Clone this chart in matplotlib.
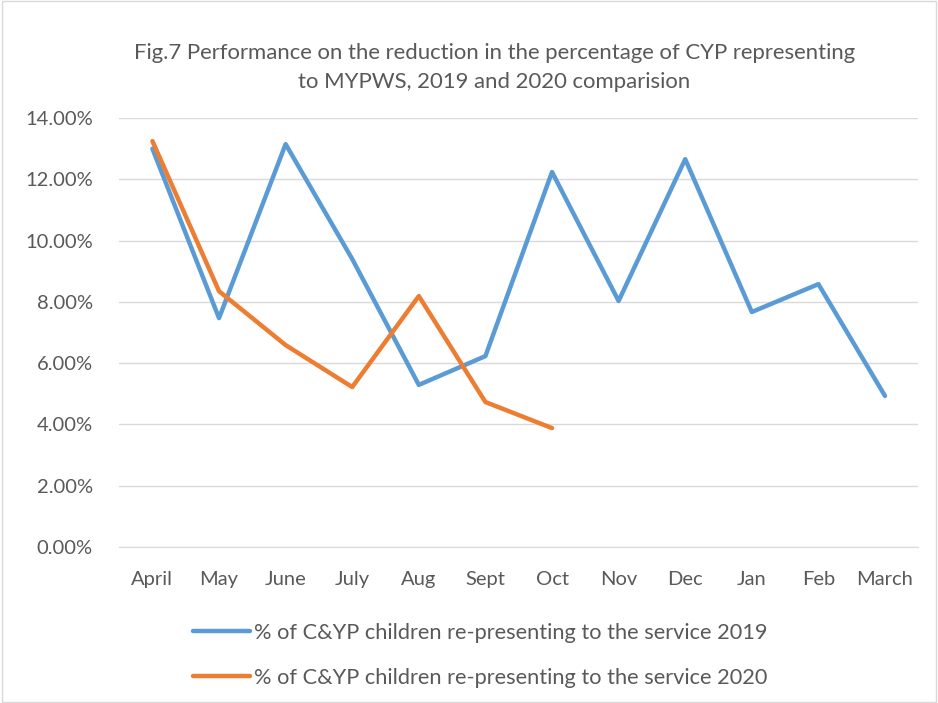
import matplotlib.pyplot as plt
from matplotlib.ticker import FuncFormatter

months = ['April', 'May', 'June', 'July', 'Aug', 'Sept', 'Oct', 'Nov', 'Dec', 'Jan', 'Feb', 'March']
pct_2019 = [13.0, 7.47, 13.15, 9.40, 5.29, 6.23, 12.24, 8.03, 12.66, 7.67, 8.58, 4.93]
pct_2020 = [13.25, 8.35, 6.59, 5.22, 8.19, 4.73, 3.88]

plt.rcParams['font.family'] = ['Lato', 'DejaVu Sans']
grey = '#595959'

fig = plt.figure(figsize=(9.38, 7.03), dpi=100)
ax = fig.add_axes([0.127, 0.222, 0.852, 0.610])

x = range(len(months))
l1, = ax.plot(x, pct_2019, color='#5B9BD5', lw=3.2, solid_capstyle='round', solid_joinstyle='round',
              label='% of C&YP children re-presenting to the service 2019')
l2, = ax.plot(range(len(pct_2020)), pct_2020, color='#ED7D31', lw=3.2, solid_capstyle='round',
              solid_joinstyle='round', label='% of C&YP children re-presenting to the service 2020')

ax.set_ylim(0, 14)
ax.set_yticks([0, 2, 4, 6, 8, 10, 12, 14])
ax.yaxis.set_major_formatter(FuncFormatter(lambda v, p: f'{v:.2f}%'))
ax.set_xlim(-0.5, len(months) - 0.5)
ax.set_xticks(list(x))
ax.set_xticklabels(months)
ax.grid(axis='y', color='#D9D9D9', lw=1)
ax.set_axisbelow(True)
for s in ['top', 'right', 'left']:
    ax.spines[s].set_visible(False)
ax.spines['bottom'].set_color('#D9D9D9')
ax.tick_params(length=0, labelsize=14.5, colors=grey)
ax.tick_params(axis='x', pad=17)
ax.tick_params(axis='y', pad=19)

fig.text(0.527, 0.904, 'Fig.7 Performance on the reduction in the percentage of CYP representing\nto MYPWS, 2019 and 2020 comparision',
         ha='center', va='center', fontsize=15.9, color=grey, linespacing=1.55)

fig.legend(handles=[l1, l2], loc='center', bbox_to_anchor=(0.512, 0.068), ncol=1, frameon=False,
           fontsize=15.7, labelcolor=grey, handlelength=2.6, handletextpad=0.2, labelspacing=1.15)

fig.patches.append(plt.Rectangle((0.002, 0.002), 0.996, 0.996, transform=fig.transFigure,
                                 fill=False, edgecolor='#D9D9D9', lw=1))

fig.savefig('out.png', dpi=100)
